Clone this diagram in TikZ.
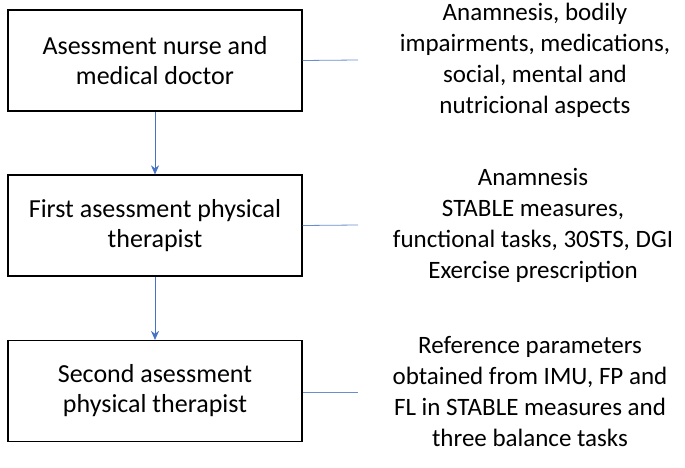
\documentclass[tikz,border=0pt]{standalone}
\usepackage{fontspec}
\setmainfont{Carlito}
\usetikzlibrary{arrows.meta}
\definecolor{lb}{RGB}{68,114,196}
\begin{document}
\begin{tikzpicture}[x=1pt,y=-1pt,
  box/.style={draw,line width=1.2pt,minimum width=294pt,minimum height=101pt,align=center,font=\fontsize{26}{30}\selectfont},
  txt/.style={align=center,font=\fontsize{25}{31}\selectfont},
  arr/.style={draw=lb,-{Stealth[length=9pt,width=8pt]},line width=0.8pt},
  ln/.style={draw=lb!80,line width=0.8pt}]
\useasboundingbox (0,0) rectangle (685,468);
\node[box] (b1) at (155,60.5) {Asessment nurse and\\medical doctor};
\node[box] (b2) at (155,225.5) {First asessment physical\\therapist};
\node[box] (b3) at (155,391) {Second asessment\\physical therapist};
\draw[arr] (b1.south) -- (b2.north);
\draw[arr] (b2.south) -- (b3.north);
\node[txt] (t1) at (535,60) {Anamnesis, bodily\\impairments, medications,\\social, mental and\\nutricional aspects};
\node[txt] (t2) at (533,225) {Anamnesis\\STABLE measures,\\functional tasks, 30STS, DGI\\Exercise prescription};
\node[txt] (t3) at (530,392) {Reference parameters\\obtained from IMU, FP and\\FL in STABLE measures and\\three balance tasks};
\coordinate (e1) at (358,60); \coordinate (e2) at (358,225); \coordinate (e3) at (358,392);
\draw[ln] (b1.east) -- (e1);
\draw[ln] (b2.east) -- (e2);
\draw[ln] (b3.east|-e3) -- (e3);
\end{tikzpicture}
\end{document}
